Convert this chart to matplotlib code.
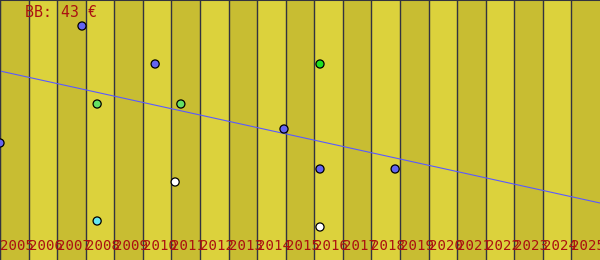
import matplotlib
matplotlib.use('Agg')
import matplotlib.pyplot as plt

# years shown as alternating bands
years = list(range(2005, 2026))
year_labels = [str(y) for y in years]

# scatter points (x in years, y in chart units, 0 = bottom)
pt_x = [2007.87, 2010.43, 2016.2, 2008.4, 2011.33, 2014.94, 2005.0,
        2016.2, 2018.83, 2011.13, 2008.4, 2016.2]
pt_y = [234, 196, 196, 156, 156, 131, 117, 91, 91, 78, 39, 33]
pt_colors = ['#6464f0', '#6464f0', '#20e020', '#64e064', '#64e064',
             '#6464f0', '#6464f0', '#6464f0', '#6464f0', '#ffffff',
             '#64e6f0', '#ffffff']

# trend line
trend_x = [2005, 2026]
trend_y = [189, 57]

title_text = 'BB: 43 €'

DARK = '#c8bd32'
LIGHT = '#dcd23c'
EDGE = '#333340'
RED = '#aa1111'

fig = plt.figure(figsize=(6, 2.6), dpi=100)
ax = fig.add_axes([0, 0, 1, 1])
ax.set_xlim(2005, 2026)
ax.set_ylim(0, 260)

for i, y in enumerate(years):
    ax.axvspan(y, y + 1, color=DARK if i % 2 == 0 else LIGHT, lw=0, zorder=0)
    ax.axvline(y, color=EDGE, lw=1.0, zorder=1)
    ax.text(y, 10, year_labels[i], color=RED, fontsize=10.2,
            family='DejaVu Sans Mono', ha='left', va='baseline', zorder=5)

ax.plot(trend_x, trend_y, color='#5a5aff', lw=0.8, zorder=2)
ax.scatter(pt_x, pt_y, s=34, c=pt_colors, edgecolors='black',
           linewidths=0.9, zorder=3, clip_on=True)

ax.text(2005.87, 243, title_text, color=RED, fontsize=10.7,
        family='DejaVu Sans Mono', ha='left', va='baseline', zorder=5)

for side in ['right', 'bottom']:
    ax.spines[side].set_visible(False)
for side in ['top', 'left']:
    ax.spines[side].set_color(EDGE)
    ax.spines[side].set_linewidth(1.5)
ax.set_xticks([])
ax.set_yticks([])

fig.savefig('out.png', dpi=100)
